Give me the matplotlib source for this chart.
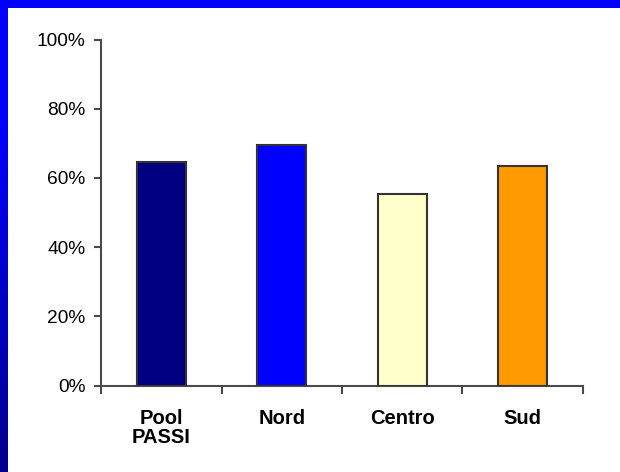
import numpy as np
import matplotlib
matplotlib.use("Agg")
import matplotlib.pyplot as plt
from matplotlib.ticker import PercentFormatter, FixedLocator

# Data
categories = ["Pool\nPASSI", "Nord", "Centro", "Sud"]
values = [64.5, 69.6, 55.3, 63.4]
bar_colors = ["#000080", "#0000FF", "#FFFFCC", "#FF9900"]
y_ticks = [0, 20, 40, 60, 80, 100]

W, H = 620, 472
fig = plt.figure(figsize=(W / 100, H / 100), dpi=100)
fig.patch.set_facecolor("white")

# Frame: blue strip on top, left strip fading to dark navy downwards
frame = fig.add_axes([0, 0, 1, 1], zorder=-10)
frame.set_xlim(0, W)
frame.set_ylim(H, 0)
frame.axis("off")
frame.add_patch(plt.Rectangle((0, 0), W, 7.5, color="#0000FF", lw=0))
ys = np.linspace(0, H, 200)
shade = np.where(ys < 120, 255, 255 - (ys - 120) / (H - 120) * 115)
grad = np.zeros((len(ys), 1, 3))
grad[:, 0, 2] = shade / 255.0
frame.imshow(grad, extent=(0, 7.2, H, 0), aspect="auto", interpolation="bilinear")

# Chart area
left, right = 101 / W, 583 / W
bottom, top = 1 - 385.7 / H, 1 - 39.5 / H
ax = fig.add_axes([left, bottom, right - left, top - bottom])

x = np.arange(len(categories))
ax.bar(x, values, width=0.41, color=bar_colors, edgecolor="#333333", linewidth=1.5, zorder=3)

ax.set_xlim(-0.5, len(categories) - 0.5)
ax.set_ylim(0, 100)

font = "Liberation Sans"
axis_col = "#4a4a4a"

for s in ["top", "right"]:
    ax.spines[s].set_visible(False)
for s in ["left", "bottom"]:
    ax.spines[s].set_color(axis_col)
    ax.spines[s].set_linewidth(1.5)

ax.yaxis.set_major_locator(FixedLocator(y_ticks))
ax.yaxis.set_major_formatter(PercentFormatter(decimals=0))
ax.tick_params(axis="y", direction="out", length=5, width=1.5, color=axis_col, pad=6,
               labelsize=13.8, labelcolor="black")
for lab in ax.get_yticklabels():
    lab.set_fontfamily(font)

ax.set_xticks(x)
ax.set_xticklabels(categories, fontfamily=font, fontweight="bold", fontsize=14.5,
                   linespacing=0.95)
ax.set_xticks(np.arange(-0.5, len(categories), 1.0), minor=True)
ax.tick_params(axis="x", which="major", length=0, pad=17, labelcolor="black")
ax.tick_params(axis="x", which="minor", direction="out", length=6, width=1.5, color=axis_col)

fig.savefig("out.png", dpi=100, facecolor="white")
